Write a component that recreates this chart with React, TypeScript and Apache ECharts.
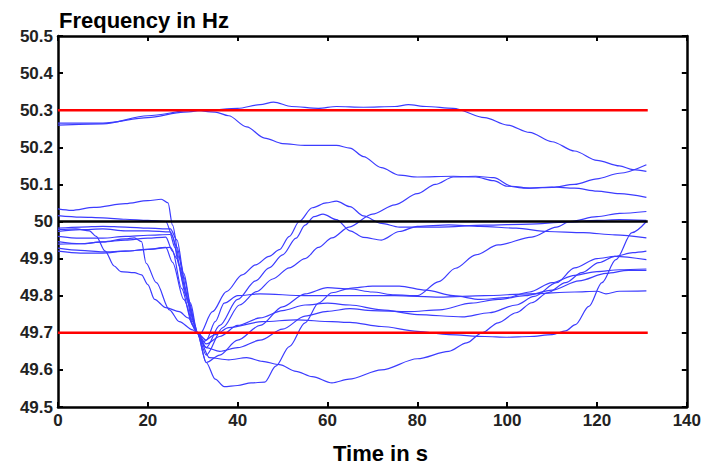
import React, { useEffect, useRef } from "react";
import * as echarts from "echarts";

type Pt = [number, number];

// x-axis ticks (s) and y-axis ticks (Hz)
const xTicks = [0, 20, 40, 60, 80, 100, 120, 140];
const yTicks = [49.5, 49.6, 49.7, 49.8, 49.9, 50, 50.1, 50.2, 50.3, 50.4, 50.5];

// Reference limits
const upperLimit: Pt[] = [[0, 50.3], [131.3, 50.3]];
const lowerLimit: Pt[] = [[0, 49.7], [131.3, 49.7]];
const nominal: Pt[] = [[0, 50.0], [131.3, 50.0]];

// Measured frequency traces
const traceA: Pt[] = [[0, 50.265], [10, 50.265], [20, 50.28], [28, 50.295], [33, 50.3], [40, 50.305], [45, 50.315], [48, 50.322], [52, 50.31], [58, 50.305], [62, 50.31], [68, 50.308], [75, 50.31], [78, 50.315], [82, 50.31], [88, 50.305], [95, 50.28], [100, 50.26], [105, 50.24], [110, 50.215], [115, 50.19], [120, 50.165], [125, 50.15], [128, 50.14], [131, 50.135]];
const traceB: Pt[] = [[0, 50.26], [10, 50.263], [20, 50.285], [30, 50.3], [35, 50.295], [38, 50.285], [42, 50.255], [46, 50.225], [50, 50.21], [55, 50.205], [62, 50.205], [65, 50.198], [68, 50.175], [72, 50.145], [76, 50.125], [80, 50.12], [88, 50.122], [93, 50.12], [97, 50.11], [100, 50.095], [104, 50.09], [110, 50.093], [115, 50.09], [120, 50.082], [125, 50.075], [131, 50.065]];
const tracePeak: Pt[] = [[0, 49.982], [5, 49.985], [10, 49.987], [15, 49.985], [20, 49.982], [25, 49.98], [26.5, 49.95], [28, 49.86], [29.5, 49.78], [31, 49.7], [31.5, 49.695], [34.4, 49.757], [37.5, 49.811], [41, 49.856], [44, 49.883], [47, 49.906], [49.3, 49.924], [51.5, 49.96], [53.7, 50.0], [56.6, 50.037], [59.7, 50.05], [62, 50.055], [65, 50.04], [68, 50.015], [72, 49.995], [76, 49.985], [85, 49.985], [95, 49.99], [105, 49.993], [113, 49.998], [120, 50.003], [125, 50.005], [131, 50.003]];
const traceU: Pt[] = [[0, 49.973], [5, 49.978], [10, 49.98], [15, 49.975], [20, 49.975], [25, 49.972], [26.5, 49.93], [28, 49.85], [30, 49.74], [31, 49.7], [33, 49.66], [36, 49.72], [40, 49.79], [44, 49.84], [47, 49.875], [50, 49.91], [53, 49.955], [55, 49.99], [57, 50.013], [59, 50.02], [62, 50.005], [65, 49.975], [68, 49.957], [72, 49.95], [76, 49.973], [80, 49.987], [87, 49.991], [94, 49.987], [102, 49.982], [109, 49.973], [117, 49.97], [124, 49.964], [131, 49.956]];
const traceC: Pt[] = [[0, 49.96], [5, 49.955], [10, 49.955], [15, 49.96], [20, 49.963], [25, 49.965], [26, 49.93], [28, 49.83], [30, 49.73], [31, 49.7], [33, 49.64], [36.7, 49.714], [40.4, 49.775], [44.2, 49.811], [47.8, 49.845], [51.5, 49.875], [55, 49.9], [58, 49.93], [61, 49.956], [64.8, 49.985], [70, 50.02], [75, 50.045], [80, 50.075], [84, 50.1], [88, 50.12], [93, 50.122], [97, 50.118], [101, 50.095], [105, 50.09], [110, 50.092], [115, 50.1], [120, 50.115], [125, 50.13], [131, 50.153]];
const traceRise: Pt[] = [[0, 49.939], [5, 49.94], [10, 49.945], [15, 49.95], [20, 49.955], [24, 49.958], [25.5, 49.92], [27.5, 49.82], [30, 49.72], [31, 49.7], [33, 49.62], [36, 49.64], [40, 49.68], [45, 49.72], [50, 49.77], [55, 49.805], [60, 49.822], [65, 49.818], [70, 49.81], [75, 49.802], [80, 49.8], [84.8, 49.838], [88.5, 49.874], [93, 49.91], [98, 49.937], [105.5, 49.958], [111, 49.985], [114, 50.0], [120, 50.013], [125, 50.022], [131, 50.027]];
const traceSteep: Pt[] = [[0, 49.928], [5, 49.922], [10, 49.918], [15, 49.92], [20, 49.925], [24, 49.93], [25.5, 49.89], [28, 49.79], [30.5, 49.71], [32.2, 49.676], [35, 49.695], [38, 49.714], [45.5, 49.73], [53, 49.735], [61, 49.73], [65, 49.728], [72, 49.717], [80, 49.704], [87, 49.695], [95, 49.69], [100, 49.688], [105, 49.69], [110, 49.695], [113, 49.705], [115.2, 49.722], [118.2, 49.771], [121.1, 49.835], [124.2, 49.897], [127.8, 49.97], [131, 50.0]];
const traceSlow: Pt[] = [[0, 50.034], [3, 50.03], [8, 50.038], [15, 50.048], [20, 50.056], [23, 50.06], [24.5, 50.05], [25.5, 49.99], [27, 49.9], [29, 49.79], [31, 49.7], [33.7, 49.633], [38, 49.627], [42, 49.633], [45.5, 49.623], [49.3, 49.614], [53, 49.596], [56.6, 49.582], [61, 49.565], [64.8, 49.575], [72, 49.6], [80, 49.63], [87, 49.65], [91, 49.673], [94.4, 49.7], [98, 49.727], [102, 49.754], [105.5, 49.781], [109, 49.808], [113, 49.835], [116.6, 49.862], [120.4, 49.889], [124, 49.906], [128, 49.916], [131, 49.92]];
const traceDeep: Pt[] = [[0, 50.016], [5, 50.012], [10, 50.01], [15, 50.006], [20, 50.003], [24, 50.0], [25.5, 49.96], [27, 49.88], [29, 49.78], [31, 49.7], [33, 49.62], [35, 49.575], [37, 49.555], [40, 49.558], [43, 49.565], [46, 49.567], [48.5, 49.61], [51.5, 49.663], [55, 49.727], [58, 49.78], [61, 49.808], [65, 49.82], [70, 49.826], [76, 49.826], [82, 49.815], [88, 49.8], [94, 49.79], [100, 49.795], [105, 49.81], [110, 49.835], [115, 49.855], [120, 49.865], [125, 49.87], [131, 49.872]];
const traceFlat: Pt[] = [[0, 49.92], [5, 49.915], [10, 49.915], [15, 49.92], [20, 49.925], [25, 49.93], [26.5, 49.9], [28.5, 49.8], [30.5, 49.72], [31, 49.7], [33, 49.68], [35, 49.73], [37, 49.78], [40, 49.8], [45, 49.805], [55, 49.8], [65, 49.8], [75, 49.8], [85, 49.796], [95, 49.8], [105, 49.805], [115, 49.81], [120, 49.812], [122, 49.805], [125, 49.812], [131, 49.813]];
const traceEarly1: Pt[] = [[0, 49.978], [4, 49.98], [7, 49.975], [8.5, 49.96], [10.5, 49.92], [12.5, 49.88], [14, 49.865], [17, 49.862], [18.6, 49.856], [20, 49.83], [21.5, 49.79], [24, 49.768], [27, 49.757], [29, 49.74], [31, 49.7], [33, 49.67], [36, 49.69], [40, 49.72], [45, 49.74], [50, 49.76], [55, 49.775], [60, 49.78], [65, 49.775], [72, 49.762], [80, 49.749], [90, 49.743], [96, 49.754], [102, 49.775], [106, 49.798], [111, 49.835], [115, 49.875], [120, 49.9], [124, 49.906], [131, 49.897]];
const traceEarly2: Pt[] = [[0, 49.946], [5, 49.94], [10, 49.945], [15, 49.953], [17, 49.956], [18.6, 49.946], [19.6, 49.888], [21.9, 49.835], [24.8, 49.762], [27, 49.73], [30, 49.708], [31, 49.7], [33, 49.66], [36, 49.65], [40, 49.66], [45, 49.68], [50, 49.71], [55, 49.745], [60, 49.758], [65, 49.765], [70, 49.76], [78, 49.757], [85, 49.762], [92, 49.78], [98, 49.79], [104, 49.8], [110, 49.815], [116, 49.84], [122, 49.86], [127, 49.868], [131, 49.868]];

const traces: Pt[][] = [traceA, traceB, tracePeak, traceU, traceC, traceRise, traceSteep, traceSlow, traceDeep, traceFlat, traceEarly1, traceEarly2];

const BLUE = "#3c3cff";
const FONT = "'Liberation Sans', Arial, sans-serif";

export default function App() {
  const ref = useRef<HTMLDivElement>(null);

  useEffect(() => {
    if (!ref.current) return;
    const chart = echarts.init(ref.current, undefined, { renderer: "svg" });

    const fmtY = (v: number) => {
      const s = v.toFixed(1);
      return s.endsWith(".0") ? s.slice(0, -2) : s;
    };

    const axisCommonX = {
      type: "value" as const,
      min: xTicks[0],
      max: xTicks[xTicks.length - 1],
      interval: xTicks[1] - xTicks[0],
      axisLine: { show: true, onZero: false, lineStyle: { color: "#000", width: 2.5 } },
      axisTick: { show: true, inside: true, length: 5, lineStyle: { color: "#000", width: 2 } },
      splitLine: { show: false },
    };
    const axisCommonY = {
      type: "value" as const,
      min: yTicks[0],
      max: yTicks[yTicks.length - 1],
      interval: 0.1,
      axisLine: { show: true, onZero: false, lineStyle: { color: "#000", width: 2.5 } },
      axisTick: { show: true, inside: true, length: 5, lineStyle: { color: "#000", width: 2 } },
      splitLine: { show: false },
    };

    const blueSeries = traces.map((d, i) => ({
      name: "trace" + i,
      type: "line" as const,
      data: d,
      showSymbol: false,
      symbol: "none",
      smooth: 0.3,
      smoothMonotone: "x" as const,
      lineStyle: { color: BLUE, width: 1.2 },
      z: 2,
    }));

    const refSeries = [
      { data: upperLimit, color: "#ff0000" },
      { data: lowerLimit, color: "#ff0000" },
      { data: nominal, color: "#000000" },
    ].map((r, i) => ({
      name: "ref" + i,
      type: "line" as const,
      data: r.data,
      showSymbol: false,
      symbol: "none",
      lineStyle: { color: r.color, width: 2.5 },
      z: 3,
    }));

    chart.setOption({
      animation: false,
      backgroundColor: "#ffffff",
      grid: { left: 58, right: 15, top: 36, bottom: 60, containLabel: false },
      xAxis: [
        {
          ...axisCommonX,
          position: "bottom",
          axisLabel: { show: true, margin: 5, color: "#222", fontSize: 17, fontWeight: "bold", fontFamily: FONT },
        },
        {
          ...axisCommonX,
          position: "top",
          axisLabel: { show: false },
        },
      ],
      yAxis: [
        {
          ...axisCommonY,
          position: "left",
          axisLabel: { show: true, margin: 5, color: "#222", fontSize: 17, fontWeight: "bold", fontFamily: FONT, formatter: fmtY },
        },
        {
          ...axisCommonY,
          position: "right",
          axisLabel: { show: false },
        },
      ],
      graphic: [
        {
          type: "text",
          left: 59,
          top: 9,
          style: { text: "Frequency in Hz", fill: "#000", font: `bold 22px ${FONT}` },
        },
        {
          type: "text",
          left: 333,
          top: 442,
          style: { text: "Time in s", fill: "#000", font: `bold 22px ${FONT}` },
        },
      ],
      series: [...blueSeries, ...refSeries],
    });

    return () => chart.dispose();
  }, []);

  return (
    <div
      ref={ref}
      style={{ position: "fixed", left: 0, top: 0, width: 704, height: 467, background: "#fff" }}
    />
  );
}
